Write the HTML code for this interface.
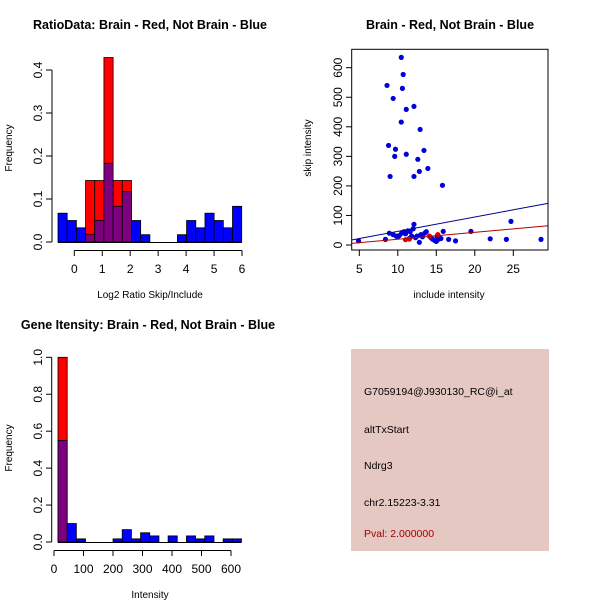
<!DOCTYPE html>
<html><head><meta charset="utf-8"><style>
body{margin:0;background:#fff;}
svg{display:block;font-family:"Liberation Sans",sans-serif;}
</style></head><body>
<svg id="c" width="600" height="600">
<rect width="600" height="600" fill="#fff"/>
</svg>
<script>
const ratioBlue=[0.067,0.05,0.033,0.017,0.05,0.183,0.083,0.117,0.05,0.017,0,0,0,0.017,0.05,0.033,0.067,0.05,0.033,0.083];
const ratioRed=[0,0,0,0.143,0.143,0.429,0.143,0.143,0,0,0,0,0,0,0,0,0,0,0,0];
const ratioXTicks=[0,1,2,3,4,5,6];
const ratioYTicks=["0.0","0.1","0.2","0.3","0.4"];
const intBlue=[0.55,0.1,0.017,0,0,0,0.017,0.067,0.017,0.05,0.033,0,0.033,0,0.033,0.017,0.033,0,0.017,0.017];
const intRed=[1.0,0,0,0,0,0,0,0,0,0,0,0,0,0,0,0,0,0,0,0];
const intXTicks=[0,100,200,300,400,500,600];
const intYTicks=["0.0","0.2","0.4","0.6","0.8","1.0"];
const scatBlueX=[10.45,10.7,8.6,10.6,9.4,11.1,12.1,10.45,12.9,8.8,9.7,13.4,9.6,11.1,12.6,13.9,12.8,9.0,12.1,15.8,24.7,12.1,19.5,15.9,22.0,24.1,28.6,4.9,8.4,8.9,16.6,17.5,12.8,9.4,9.8,10.2,10.5,10.8,11.0,11.3,11.6,11.8,12.0,12.3,12.5,13.0,13.2,13.5,13.7,14.5,14.8,15.0,15.2,15.4,15.6,15.1,14.3,11.5,10.0];
const scatBlueY=[635,577,540,530,496,459,469,416,391,337,324,320,300,307,290,259,249,232,232,202,80,70,46,46,21,19,19,14,19,40,19,14,9,35,30,32,40,45,38,48,45,30,55,25,30,35,28,40,45,20,15,12,18,25,22,30,25,22,28];
const scatRedX=[14.1,11.0,15.2,11.5];
const scatRedY=[30,18,35,20];
const scatXTicks=[5,10,15,20,25];
const scatYTicks=[0,100,200,300,400,500,600];
const blueFit=[-2.4,4.86];
const redFit=[-3.7,2.33];

const svg=document.getElementById('c');
const NS='http://www.w3.org/2000/svg';
function mk(tag,attrs,parent){const e=document.createElementNS(NS,tag);for(const k in attrs)e.setAttribute(k,attrs[k]);(parent||svg).appendChild(e);return e;}
function txt(s,x,y,o,parent){const e=mk('text',Object.assign({x:x,y:y,'font-size':12,fill:'#000','text-anchor':'middle'},o||{}),parent);e.textContent=s;return e;}

// ---------- Panel 1 ----------
(function(){
 const g=mk('g',{});
 
 
 const sx=v=>74.3+v*27.95, sy=v=>242-v*430;
 const start=-0.583, w=0.3286;
 ratioRed.forEach((r,i)=>{ if(r>0){const b=mk('rect',{x:sx(start+i*w),y:sy(r),width:w*27.95,height:sy(0)-sy(r),fill:'#ff0000',stroke:'#000','stroke-width':0.8},g);
  
  }});
 ratioBlue.forEach((v,i)=>{ if(v>0){const b=mk('rect',{x:sx(start+i*w),y:sy(v),width:w*27.95,height:sy(0)-sy(v),fill:ratioRed[i]>0?'#7f007f':'#0000ff',stroke:'#000','stroke-width':0.8},g);
  
  }});
 mk('line',{x1:sx(start),x2:sx(start+20*w),y1:242.5,y2:242.5,stroke:'#000'},g);
 mk('line',{x1:52,x2:52,y1:sy(0),y2:sy(0.4),stroke:'#000'},g);
 ratioYTicks.forEach(t=>{const y=sy(+t);mk('line',{x1:46,x2:52,y1:y,y2:y,stroke:'#000'},g);txt(t,39,y,{transform:`rotate(-90 39 ${y})`,'dominant-baseline':'middle'},g);});
 mk('line',{x1:sx(0),x2:sx(6),y1:250.5,y2:250.5,stroke:'#000'},g);
 ratioXTicks.forEach(t=>{const x=sx(t);mk('line',{x1:x,x2:x,y1:250.5,y2:256,stroke:'#000'},g);txt(t,x,273,{},g);});
 const xl=txt('Log2 Ratio Skip/Include',150,298,{'font-size':10},g);
 
 
 const yl=txt('Frequency',12,148,{'font-size':10,transform:'rotate(-90 12 148)'},g);
 
 
 const t=txt('RatioData: Brain - Red, Not Brain - Blue',150,29,{'font-size':12.5,'font-weight':'bold'},g);
 
 
})();

// ---------- Panel 2 ----------
(function(){
 const g=mk('g',{});
 
 
 const sx=v=>359.3+(v-5)*7.7, sy=v=>245-v*0.2955;
 const x0=4.0,x1=29.5;
 const cp=mk('clipPath',{id:'cp'},g);
 mk('rect',{x:351.7,y:49.3,width:196.3,height:200.7},cp);
 scatBlueX.forEach((x,i)=>{const c=mk('circle',{cx:sx(x),cy:sy(scatBlueY[i]),r:2.6,fill:'#0000dd'},g);
  
  });
 scatRedX.forEach((x,i)=>{const c=mk('circle',{cx:sx(x),cy:sy(scatRedY[i]),r:2.6,fill:'#dd0000'},g);
  
  });
 const bl=mk('line',{x1:sx(x0),y1:sy(blueFit[0]+blueFit[1]*x0),x2:sx(x1),y2:sy(blueFit[0]+blueFit[1]*x1),stroke:'#00008b','stroke-width':1,'clip-path':'url(#cp)'},g);
 
 
 const rl=mk('line',{x1:sx(x0),y1:sy(redFit[0]+redFit[1]*x0),x2:sx(x1),y2:sy(redFit[0]+redFit[1]*x1),stroke:'#b00000','stroke-width':1,'clip-path':'url(#cp)'},g);
 
 
 mk('rect',{x:351.7,y:49.3,width:196.3,height:200.7,fill:'none',stroke:'#000'},g);
 scatYTicks.forEach(t=>{const y=sy(t);mk('line',{x1:346,x2:351.7,y1:y,y2:y,stroke:'#000'},g);txt(t,339,y,{transform:`rotate(-90 339 ${y})`,'dominant-baseline':'middle'},g);});
 scatXTicks.forEach(t=>{const x=sx(t);mk('line',{x1:x,x2:x,y1:250,y2:256,stroke:'#000'},g);txt(t,x,273,{},g);});
 const xl=txt('include intensity',449,298,{'font-size':10},g);
 
 
 const yl=txt('skip intensity',311,148,{'font-size':10,transform:'rotate(-90 311 148)'},g);
 
 
 const t=txt('Brain - Red, Not Brain - Blue',450,29,{'font-size':12.5,'font-weight':'bold'},g);
 
 
})();

// ---------- Panel 3 ----------
(function(){
 const g=mk('g',{});
 
 
 const sx=v=>54+v*0.295, sy=v=>542-v*184.7;
 const start=13.56,w=31.1;
 intRed.forEach((r,i)=>{ if(r>0){const b=mk('rect',{x:sx(start+i*w),y:sy(r),width:w*0.295,height:sy(0)-sy(r),fill:'#ff0000',stroke:'#000','stroke-width':0.8},g);
  
  }});
 intBlue.forEach((v,i)=>{ if(v>0){const b=mk('rect',{x:sx(start+i*w),y:sy(v),width:w*0.295,height:sy(0)-sy(v),fill:intRed[i]>0?'#7f007f':'#0000ff',stroke:'#000','stroke-width':0.8},g);
  
  }});
 mk('line',{x1:sx(start),x2:sx(start+20*w),y1:542.5,y2:542.5,stroke:'#000'},g);
 mk('line',{x1:51.7,x2:51.7,y1:sy(0),y2:sy(1),stroke:'#000'},g);
 intYTicks.forEach(t=>{const y=sy(+t);mk('line',{x1:46,x2:51.7,y1:y,y2:y,stroke:'#000'},g);txt(t,39,y,{transform:`rotate(-90 39 ${y})`,'dominant-baseline':'middle'},g);});
 mk('line',{x1:sx(0),x2:sx(600),y1:550.5,y2:550.5,stroke:'#000'},g);
 intXTicks.forEach(t=>{const x=sx(t);mk('line',{x1:x,x2:x,y1:550.5,y2:556,stroke:'#000'},g);txt(t,x,573,{},g);});
 const xl=txt('Intensity',150,598,{'font-size':10},g);
 
 
 const yl=txt('Frequency',12,448,{'font-size':10,transform:'rotate(-90 12 448)'},g);
 
 
 const t=txt('Gene Itensity: Brain - Red, Not Brain - Blue',148,329,{'font-size':12.5,'font-weight':'bold'},g);
 
 
})();

// ---------- Panel 4 ----------
(function(){
 const g=mk('g',{});
 
 
 mk('rect',{x:351,y:349,width:198,height:202,fill:'#e6c8c2'},g);
 const lines=[['G7059194@J930130_RC@i_at',395,'#000','probe-id'],['altTxStart',433,'#000','event-type'],['Ndrg3',469,'#000','gene-name'],['chr2.15223-3.31',506,'#000','location'],['Pval: 2.000000',537,'#a00000','p-value']];
 lines.forEach(l=>{const e=txt(l[0],364,l[1],{'text-anchor':'start','font-size':10.5,fill:l[2]},g);
  
  });
})();
</script>
</body></html>
